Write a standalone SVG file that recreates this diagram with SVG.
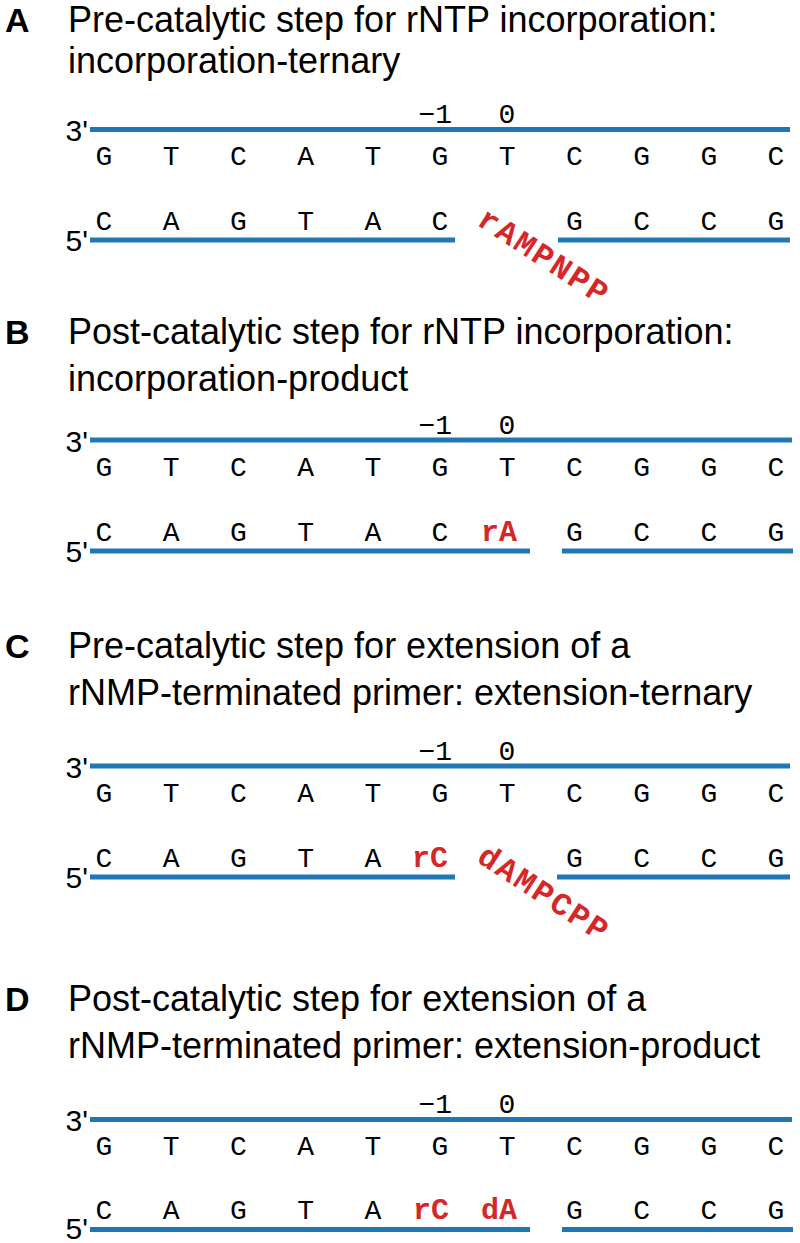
<svg xmlns="http://www.w3.org/2000/svg" width="800" height="1243" viewBox="0 0 800 1243">
<style>
.bg{fill:#ffffff}
.lbl{font-family:"Liberation Sans",Arial,sans-serif;font-weight:bold;font-size:34px;fill:#000}
.ttl{font-family:"Liberation Sans",Arial,sans-serif;font-size:36px;fill:#000}
.end{font-family:"Liberation Sans",Arial,sans-serif;font-size:30px;fill:#000;text-anchor:end}
.nt{font-family:"Liberation Mono","Courier New",monospace;font-size:28px;fill:#000;text-anchor:middle}
.pos{font-family:"Liberation Mono","Courier New",monospace;font-size:28px;fill:#000}
.red{font-family:"Liberation Mono","Courier New",monospace;font-weight:bold;font-size:30px;fill:#d62728;text-anchor:middle}
.rot{font-family:"Liberation Mono","Courier New",monospace;font-weight:bold;font-size:32px;fill:#d62728;text-anchor:middle}
.strand{stroke:#1f77b4;stroke-width:5;fill:none}
</style>
<rect class="bg" x="0" y="0" width="800" height="1243"/>

<g id="panelA">
  <text class="lbl" x="5" y="32">A</text>
  <text class="ttl" x="68" y="32">Pre-catalytic step for rNTP incorporation:</text>
  <text class="ttl" x="68" y="73">incorporation-ternary</text>
  <text class="pos" x="452" y="123" text-anchor="end">−1</text>
  <text class="pos" x="507" y="123" text-anchor="middle">0</text>
  <text class="end" x="88" y="141">3'</text>
  <text class="end" x="88" y="251">5'</text>
  <g id="strandsA">
    <line class="strand" x1="90" y1="129.5" x2="790" y2="129.5"/>
    <line class="strand" x1="90" y1="240" x2="455" y2="240"/>
    <line class="strand" x1="558" y1="240" x2="790" y2="240"/>
  </g>
  <g id="templateA">
    <text class="nt" x="104" y="165">G</text><text class="nt" x="171.2" y="165">T</text><text class="nt" x="238.4" y="165">C</text><text class="nt" x="305.6" y="165">A</text><text class="nt" x="372.8" y="165">T</text><text class="nt" x="440" y="165">G</text><text class="nt" x="507.2" y="165">T</text><text class="nt" x="574.4" y="165">C</text><text class="nt" x="641.6" y="165">G</text><text class="nt" x="708.8" y="165">G</text><text class="nt" x="776" y="165">C</text>
  </g>
  <g id="primerA">
    <text class="nt" x="104" y="230">C</text><text class="nt" x="171.2" y="230">A</text><text class="nt" x="238.4" y="230">G</text><text class="nt" x="305.6" y="230">T</text><text class="nt" x="372.8" y="230">A</text><text class="nt" x="440" y="230">C</text>
    <text class="nt" x="574.4" y="230">G</text><text class="nt" x="641.6" y="230">C</text><text class="nt" x="708.8" y="230">C</text><text class="nt" x="776" y="230">G</text>
  </g>
  <text class="rot" transform="translate(543,256) rotate(33)" x="0" y="10" textLength="148" lengthAdjust="spacing">rAMPNPP</text>
</g>

<g id="panelB">
  <text class="lbl" x="5" y="344">B</text>
  <text class="ttl" x="68" y="344">Post-catalytic step for rNTP incorporation:</text>
  <text class="ttl" x="68" y="391">incorporation-product</text>
  <text class="pos" x="452" y="433.5" text-anchor="end">−1</text>
  <text class="pos" x="507" y="433.5" text-anchor="middle">0</text>
  <text class="end" x="88" y="451.5">3'</text>
  <text class="end" x="88" y="562">5'</text>
  <g id="strandsB">
    <line class="strand" x1="90" y1="440" x2="792" y2="440"/>
    <line class="strand" x1="90" y1="551" x2="530" y2="551"/>
    <line class="strand" x1="562" y1="551" x2="793" y2="551"/>
  </g>
  <g id="templateB">
    <text class="nt" x="104" y="475.5">G</text><text class="nt" x="171.2" y="475.5">T</text><text class="nt" x="238.4" y="475.5">C</text><text class="nt" x="305.6" y="475.5">A</text><text class="nt" x="372.8" y="475.5">T</text><text class="nt" x="440" y="475.5">G</text><text class="nt" x="507.2" y="475.5">T</text><text class="nt" x="574.4" y="475.5">C</text><text class="nt" x="641.6" y="475.5">G</text><text class="nt" x="708.8" y="475.5">G</text><text class="nt" x="776" y="475.5">C</text>
  </g>
  <g id="primerB">
    <text class="nt" x="104" y="540.5">C</text><text class="nt" x="171.2" y="540.5">A</text><text class="nt" x="238.4" y="540.5">G</text><text class="nt" x="305.6" y="540.5">T</text><text class="nt" x="372.8" y="540.5">A</text><text class="nt" x="440" y="540.5">C</text>
    <text class="red" x="499" y="540.5">rA</text>
    <text class="nt" x="574.4" y="540.5">G</text><text class="nt" x="641.6" y="540.5">C</text><text class="nt" x="708.8" y="540.5">C</text><text class="nt" x="776" y="540.5">G</text>
  </g>
</g>

<g id="panelC">
  <text class="lbl" x="5" y="658">C</text>
  <text class="ttl" x="68" y="658">Pre-catalytic step for extension of a</text>
  <text class="ttl" x="68" y="705">rNMP-terminated primer: extension-ternary</text>
  <text class="pos" x="452" y="759.5" text-anchor="end">−1</text>
  <text class="pos" x="507" y="759.5" text-anchor="middle">0</text>
  <text class="end" x="88" y="777.5">3'</text>
  <text class="end" x="88" y="888">5'</text>
  <g id="strandsC">
    <line class="strand" x1="90" y1="766" x2="790" y2="766"/>
    <line class="strand" x1="90" y1="877" x2="455" y2="877"/>
    <line class="strand" x1="557" y1="877" x2="790" y2="877"/>
  </g>
  <g id="templateC">
    <text class="nt" x="104" y="801.5">G</text><text class="nt" x="171.2" y="801.5">T</text><text class="nt" x="238.4" y="801.5">C</text><text class="nt" x="305.6" y="801.5">A</text><text class="nt" x="372.8" y="801.5">T</text><text class="nt" x="440" y="801.5">G</text><text class="nt" x="507.2" y="801.5">T</text><text class="nt" x="574.4" y="801.5">C</text><text class="nt" x="641.6" y="801.5">G</text><text class="nt" x="708.8" y="801.5">G</text><text class="nt" x="776" y="801.5">C</text>
  </g>
  <g id="primerC">
    <text class="nt" x="104" y="866.5">C</text><text class="nt" x="171.2" y="866.5">A</text><text class="nt" x="238.4" y="866.5">G</text><text class="nt" x="305.6" y="866.5">T</text><text class="nt" x="372.8" y="866.5">A</text>
    <text class="red" x="430" y="866.5">rC</text>
    <text class="nt" x="574.4" y="866.5">G</text><text class="nt" x="641.6" y="866.5">C</text><text class="nt" x="708.8" y="866.5">C</text><text class="nt" x="776" y="866.5">G</text>
  </g>
  <text class="rot" transform="translate(543,893) rotate(33)" x="0" y="10" textLength="148" lengthAdjust="spacing">dAMPCPP</text>
</g>

<g id="panelD">
  <text class="lbl" x="5" y="1011">D</text>
  <text class="ttl" x="68" y="1011">Post-catalytic step for extension of a</text>
  <text class="ttl" x="68" y="1058">rNMP-terminated primer: extension-product</text>
  <text class="pos" x="452" y="1113" text-anchor="end">−1</text>
  <text class="pos" x="507" y="1113" text-anchor="middle">0</text>
  <text class="end" x="88" y="1131">3'</text>
  <text class="end" x="88" y="1238.5">5'</text>
  <g id="strandsD">
    <line class="strand" x1="90" y1="1119.5" x2="792" y2="1119.5"/>
    <line class="strand" x1="90" y1="1229.5" x2="530" y2="1229.5"/>
    <line class="strand" x1="562" y1="1229.5" x2="793" y2="1229.5"/>
  </g>
  <g id="templateD">
    <text class="nt" x="104" y="1154.5">G</text><text class="nt" x="171.2" y="1154.5">T</text><text class="nt" x="238.4" y="1154.5">C</text><text class="nt" x="305.6" y="1154.5">A</text><text class="nt" x="372.8" y="1154.5">T</text><text class="nt" x="440" y="1154.5">G</text><text class="nt" x="507.2" y="1154.5">T</text><text class="nt" x="574.4" y="1154.5">C</text><text class="nt" x="641.6" y="1154.5">G</text><text class="nt" x="708.8" y="1154.5">G</text><text class="nt" x="776" y="1154.5">C</text>
  </g>
  <g id="primerD">
    <text class="nt" x="104" y="1219">C</text><text class="nt" x="171.2" y="1219">A</text><text class="nt" x="238.4" y="1219">G</text><text class="nt" x="305.6" y="1219">T</text><text class="nt" x="372.8" y="1219">A</text>
    <text class="red" x="431" y="1219">rC</text>
    <text class="red" x="499" y="1219">dA</text>
    <text class="nt" x="574.4" y="1219">G</text><text class="nt" x="641.6" y="1219">C</text><text class="nt" x="708.8" y="1219">C</text><text class="nt" x="776" y="1219">G</text>
  </g>
</g>
</svg>
